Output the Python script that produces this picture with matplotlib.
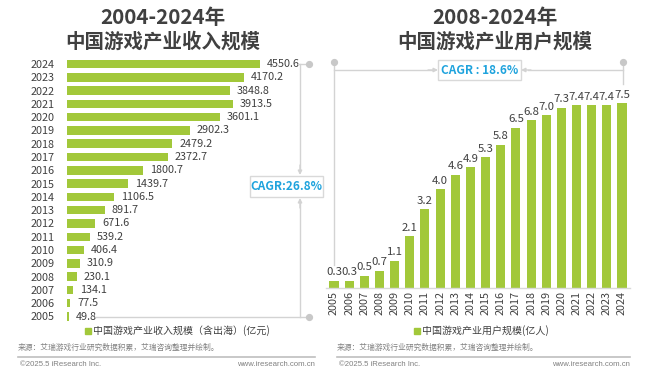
import matplotlib
matplotlib.use("Agg")
import matplotlib.pyplot as plt
from matplotlib.transforms import Affine2D
from matplotlib.lines import Line2D
from matplotlib.patches import Rectangle

plt.rcParams['font.family'] = ['Noto Sans CJK SC', 'DejaVu Sans']

# ---------------- data ----------------
rev_years = ['2005', '2006', '2007', '2008', '2009', '2010', '2011', '2012', '2013', '2014',
             '2015', '2016', '2017', '2018', '2019', '2020', '2021', '2022', '2023', '2024']
rev_values = [49.8, 77.5, 134.1, 230.1, 310.9, 406.4, 539.2, 671.6, 891.7, 1106.5,
              1439.7, 1800.7, 2372.7, 2479.2, 2902.3, 3601.1, 3913.5, 3848.8, 4170.2, 4550.6]
user_years = ['2005', '2006', '2007', '2008', '2009', '2010', '2011', '2012', '2013', '2014',
              '2015', '2016', '2017', '2018', '2019', '2020', '2021', '2022', '2023', '2024']
user_values = [0.3, 0.3, 0.5, 0.7, 1.1, 2.1, 3.2, 4.0, 4.6, 4.9,
               5.3, 5.8, 6.5, 6.8, 7.0, 7.3, 7.4, 7.4, 7.4, 7.5]

left_title = ['2004-2024年', '中国游戏产业收入规模']
right_title = ['2008-2024年', '中国游戏产业用户规模']
left_legend = '中国游戏产业收入规模（含出海）(亿元)'
right_legend = '中国游戏产业用户规模(亿人)'
left_cagr = 'CAGR:26.8%'
right_cagr = 'CAGR : 18.6%'
source = '来源：艾瑞游戏行业研究数据积累，艾瑞咨询整理并绘制。'
copyright_txt = '©2025.5 iResearch Inc.'
website = 'www.iresearch.com.cn'

# ---------------- style ----------------
W, H = 660, 374
GREEN = '#a2c83a'
DARK = '#404040'
GREY_LINE = '#d3d3d3'
BLUE = '#1fa3dd'

fig = plt.figure(figsize=(W / 100, H / 100), dpi=100)
fig.patch.set_facecolor('white')
PX = Affine2D().scale(1 / W, -1 / H).translate(0, 1) + fig.transFigure


def ax_rect(x0, y0, x1, y1):
    return [x0 / W, 1 - y1 / H, (x1 - x0) / W, (y1 - y0) / H]


# ---------------- left chart ----------------
step = (316.5 - 64.0) / 19
axL = fig.add_axes(ax_rect(67, 64 - step / 2, 260, 316.5 + step / 2))
ypos = list(range(len(rev_years)))
axL.barh(ypos, rev_values, height=0.64, color=GREEN)
axL.set_xlim(0, max(rev_values))
axL.set_ylim(-0.5, len(rev_years) - 0.5)
axL.set_yticks(ypos)
axL.set_yticklabels(rev_years, fontsize=7.8, color=DARK)
axL.tick_params(axis='y', length=0, pad=9)
axL.set_xticks([])
for s in axL.spines.values():
    s.set_visible(False)
axL.set_facecolor('none')
for y, v in zip(ypos, rev_values):
    axL.annotate(f'{v:.1f}', (v, y), xytext=(5, 0), textcoords='offset points',
                 ha='left', va='center', fontsize=7.8, color=DARK)

# ---------------- right chart ----------------
axR = fig.add_axes(ax_rect(326.4, 288 - 8 * 24.67, 629.6, 288))
xpos = list(range(len(user_years)))
axR.bar(xpos, user_values, width=0.6, color=GREEN)
axR.set_xlim(-0.5, len(user_years) - 0.5)
axR.set_ylim(0, 8)
axR.set_xticks(xpos)
axR.set_xticklabels(user_years, rotation=90, fontsize=7.8, color=DARK)
axR.tick_params(axis='x', length=0, pad=2)
axR.set_yticks([])
for k, s in axR.spines.items():
    s.set_visible(k == 'bottom')
axR.spines['bottom'].set_color('#d9d9d9')
axR.spines['bottom'].set_linewidth(1.0)
axR.set_facecolor('none')
for x, v in zip(xpos, user_values):
    axR.annotate(f'{v:.1f}', (x, v), xytext=(0, 2.5), textcoords='offset points',
                 ha='center', va='bottom', fontsize=8.2, color=DARK, zorder=5)

# ---------------- titles ----------------
for cx, lines in ((163, left_title), (495, right_title)):
    fig.text(cx / W, 1 - 18 / H, lines[0], ha='center', va='center',
             fontsize=14.8, fontweight='bold', color=DARK)
    fig.text(cx / W, 1 - 41.5 / H, lines[1], ha='center', va='center',
             fontsize=14, fontweight='bold', color=DARK)


# ---------------- decorations (brackets) ----------------
def line(xs, ys, **kw):
    fig.add_artist(Line2D(xs, ys, transform=PX, color=GREY_LINE, lw=1.0, **kw))


def dot(x, y):
    fig.add_artist(Line2D([x], [y], transform=PX, marker='o', markersize=4.2,
                          color='#c8c8c8', lw=0))


def arrow(x0, y0, x1, y1):
    fig.add_artist(matplotlib.patches.FancyArrowPatch(
        (x0, y0), (x1, y1), transform=PX, arrowstyle='-|>', mutation_scale=6,
        color=GREY_LINE, lw=1.0, shrinkA=0, shrinkB=0))


def box(x0, y0, x1, y1, text, fs):
    fig.add_artist(Rectangle((x0, y0), x1 - x0, y1 - y0, transform=PX,
                             facecolor='white', edgecolor='#d9d9d9', lw=1.0))
    fig.text((x0 + x1) / 2 / W, 1 - (y0 + y1) / 2 / H, text, ha='center', va='center',
             fontsize=fs, fontweight='bold', color=BLUE)


# left bracket
line([298, 309], [64, 64])
line([96, 309], [317, 317])
line([300, 300], [64, 170])
line([300, 300], [203, 317])
arrow(300, 165, 300, 175)
arrow(300, 208, 300, 198)
dot(309, 64)
dot(309, 317)
box(250, 176, 323, 197, left_cagr, 8.5)

# right bracket
line([334, 334], [62, 265])
line([334, 432], [70, 70])
line([623, 623], [62, 84])
line([528, 623], [70, 70])
arrow(428, 70, 438, 70)
arrow(531, 70, 521, 70)
dot(334, 62)
dot(623, 62)
box(438, 60, 521, 80, right_cagr, 8.5)

# ---------------- legends ----------------
for sx, txt in ((88, left_legend), (417, right_legend)):
    fig.add_artist(Line2D([sx], [331], transform=PX, marker='s', markersize=4.5,
                          color=GREEN, lw=0))
    fig.text((sx + 5) / W, 1 - 331 / H, txt, ha='left', va='center',
             fontsize=7.2, color=DARK)

# ---------------- footer ----------------
for x0, x1 in ((18, 315), (337, 630)):
    fig.text(x0 / W, 1 - 348 / H, source, ha='left', va='center', fontsize=5.6, color='#808080')
    fig.add_artist(Line2D([x0, x1], [357, 357], transform=PX, color='#bfbfbf', lw=1.2))
    fig.text((x0 + 2) / W, 1 - 365 / H, copyright_txt, ha='left', va='center',
             fontsize=5.6, color='#808080', family=['Liberation Sans', 'DejaVu Sans'])
    fig.text(x1 / W, 1 - 365 / H, website, ha='right', va='center',
             fontsize=5.6, color='#808080', family=['Liberation Sans', 'DejaVu Sans'])

fig.savefig('out.png', dpi=100, facecolor='white')
